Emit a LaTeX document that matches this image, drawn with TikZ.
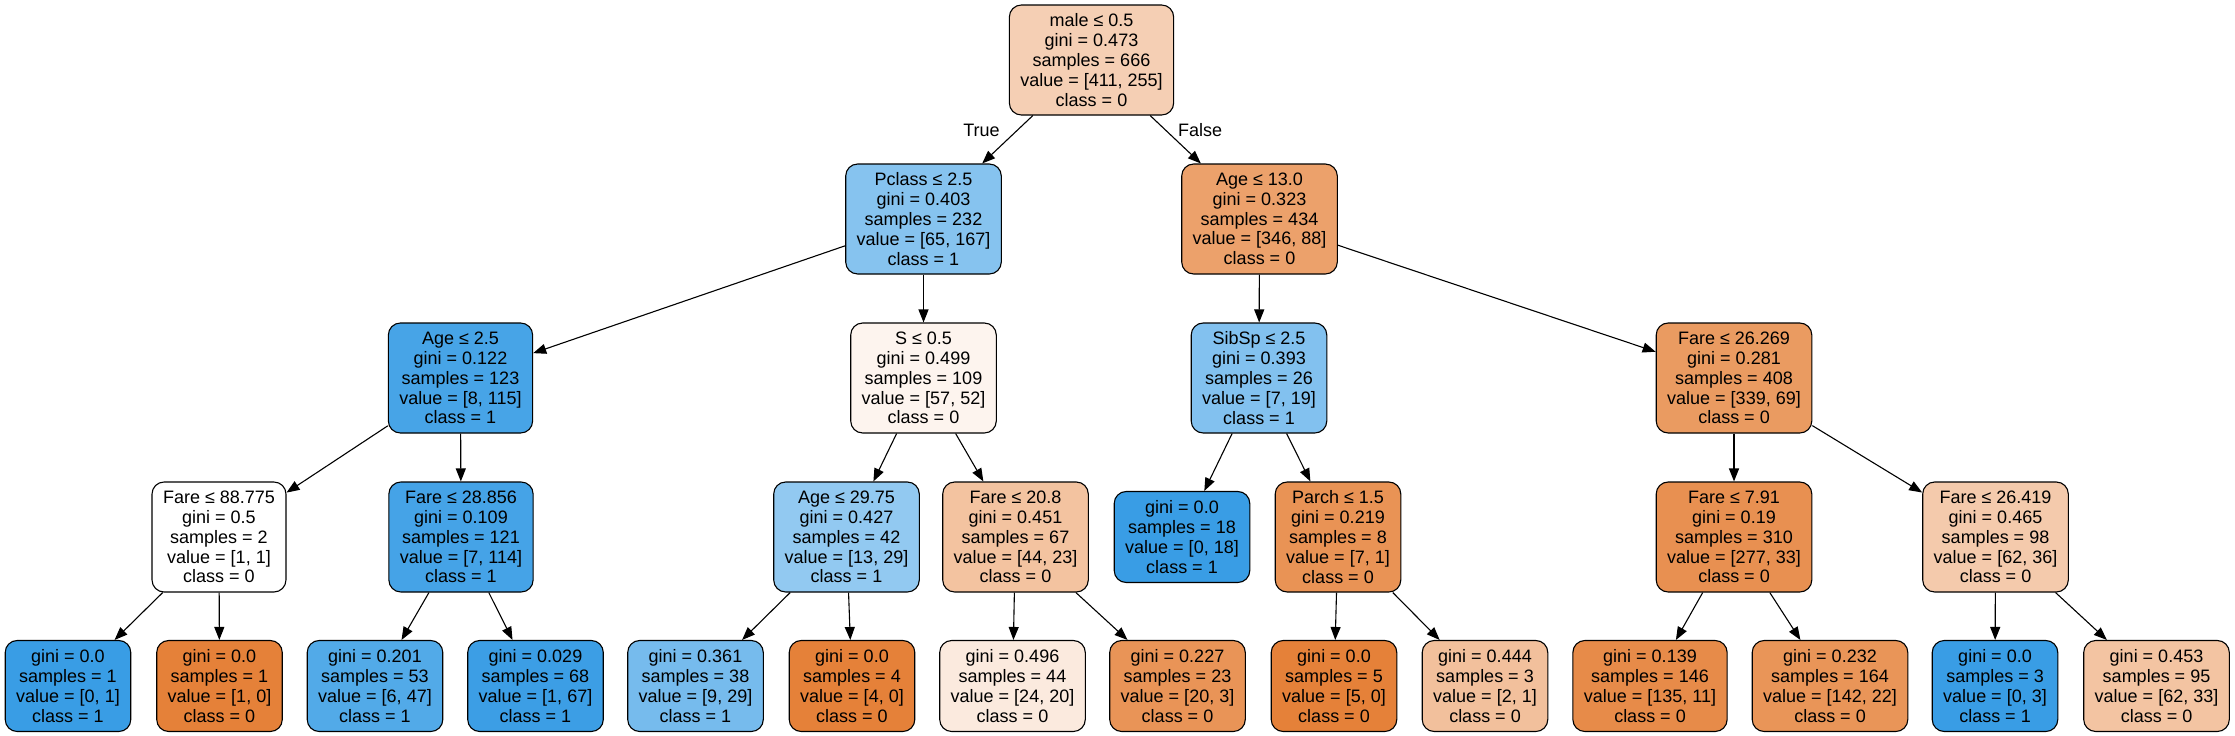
\documentclass[tikz,border=0pt]{standalone}
\usepackage{fontspec}
\setmainfont{Liberation Sans}
\usetikzlibrary{arrows.meta}
\definecolor{cOr}{RGB}{229,129,57}
\definecolor{cBl}{RGB}{57,157,229}
\definecolor{cRoot}{RGB}{245,207,180}
\definecolor{cPcl}{RGB}{134,195,239}
\definecolor{cAtt}{RGB}{236,161,107}
\definecolor{cAtf}{RGB}{71,164,231}
\definecolor{cSz}{RGB}{253,244,238}
\definecolor{cSib}{RGB}{130,193,239}
\definecolor{cFts}{RGB}{234,155,97}
\definecolor{cFtt}{RGB}{69,163,231}
\definecolor{cAtn}{RGB}{146,201,241}
\definecolor{cFtw}{RGB}{243,195,160}
\definecolor{cPar}{RGB}{233,147,85}
\definecolor{cFsn}{RGB}{232,144,81}
\definecolor{cFfn}{RGB}{244,202,172}
\definecolor{cLc}{RGB}{82,170,232}
\definecolor{cLd}{RGB}{60,158,229}
\definecolor{cLe}{RGB}{118,187,237}
\definecolor{cLg}{RGB}{251,234,222}
\definecolor{cLh}{RGB}{233,148,87}
\definecolor{cLj}{RGB}{242,192,156}
\definecolor{cLk}{RGB}{231,139,73}
\definecolor{cLl}{RGB}{233,149,88}
\definecolor{cLn}{RGB}{243,196,162}
\tikzset{
  tnode/.style={draw=black, line width=1.1pt, rounded corners=12pt, align=center,
    font=\fontsize{18pt}{19.8pt}\selectfont, inner xsep=11pt, inner ysep=0pt,
    minimum height=110pt},
  leafnode/.style={tnode, minimum height=91pt},
  edgearrow/.style={draw=black, line width=1.1pt, -{Triangle[length=13pt,width=10pt]}},
  elabel/.style={font=\fontsize{18pt}{19.8pt}\selectfont, anchor=base, inner sep=0pt}
}
\begin{document}
\begin{tikzpicture}[x=1pt,y=-1pt]
\useasboundingbox (0,0) rectangle (2235,736);
\fill[white] (0,0) rectangle (2235,736);
% internal nodes
\node[tnode, fill=cRoot] (root) at (1091.5,60) {male ≤ 0.5\\gini = 0.473\\samples = 666\\value = [411, 255]\\class = 0};
\node[tnode, fill=cPcl] (pcl) at (923.5,219) {Pclass ≤ 2.5\\gini = 0.403\\samples = 232\\value = [65, 167]\\class = 1};
\node[tnode, fill=cAtt] (a13) at (1259.5,219) {Age ≤ 13.0\\gini = 0.323\\samples = 434\\value = [346, 88]\\class = 0};
\node[tnode, fill=cAtf] (a25) at (460.5,378) {Age ≤ 2.5\\gini = 0.122\\samples = 123\\value = [8, 115]\\class = 1};
\node[tnode, fill=cSz] (s05) at (923.5,378) {S ≤ 0.5\\gini = 0.499\\samples = 109\\value = [57, 52]\\class = 0};
\node[tnode, fill=cSib] (sib) at (1259,378) {SibSp ≤ 2.5\\gini = 0.393\\samples = 26\\value = [7, 19]\\class = 1};
\node[tnode, fill=cFts] (f269) at (1734,378) {Fare ≤ 26.269\\gini = 0.281\\samples = 408\\value = [339, 69]\\class = 0};
\node[tnode, fill=white] (f88) at (219,537) {Fare ≤ 88.775\\gini = 0.5\\samples = 2\\value = [1, 1]\\class = 0};
\node[tnode, fill=cFtt] (f28) at (461,537) {Fare ≤ 28.856\\gini = 0.109\\samples = 121\\value = [7, 114]\\class = 1};
\node[tnode, fill=cAtn] (a29) at (846.5,537) {Age ≤ 29.75\\gini = 0.427\\samples = 42\\value = [13, 29]\\class = 1};
\node[tnode, fill=cFtw] (f20) at (1015.5,537) {Fare ≤ 20.8\\gini = 0.451\\samples = 67\\value = [44, 23]\\class = 0};
\node[leafnode, fill=cBl] (l18) at (1182,537) {gini = 0.0\\samples = 18\\value = [0, 18]\\class = 1};
\node[tnode, fill=cPar] (par) at (1338,537) {Parch ≤ 1.5\\gini = 0.219\\samples = 8\\value = [7, 1]\\class = 0};
\node[tnode, fill=cFsn] (f791) at (1734,537) {Fare ≤ 7.91\\gini = 0.19\\samples = 310\\value = [277, 33]\\class = 0};
\node[tnode, fill=cFfn] (f419) at (1995.5,537) {Fare ≤ 26.419\\gini = 0.465\\samples = 98\\value = [62, 36]\\class = 0};
% leaves
\node[leafnode, fill=cBl] (l1) at (68,686) {gini = 0.0\\samples = 1\\value = [0, 1]\\class = 1};
\node[leafnode, fill=cOr] (l2) at (219.5,686) {gini = 0.0\\samples = 1\\value = [1, 0]\\class = 0};
\node[leafnode, fill=cLc] (l3) at (375,686) {gini = 0.201\\samples = 53\\value = [6, 47]\\class = 1};
\node[leafnode, fill=cLd] (l4) at (535.5,686) {gini = 0.029\\samples = 68\\value = [1, 67]\\class = 1};
\node[leafnode, fill=cLe] (l5) at (695.5,686) {gini = 0.361\\samples = 38\\value = [9, 29]\\class = 1};
\node[leafnode, fill=cOr] (l6) at (852,686) {gini = 0.0\\samples = 4\\value = [4, 0]\\class = 0};
\node[leafnode, fill=cLg] (l7) at (1012.5,686) {gini = 0.496\\samples = 44\\value = [24, 20]\\class = 0};
\node[leafnode, fill=cLh] (l8) at (1177.5,686) {gini = 0.227\\samples = 23\\value = [20, 3]\\class = 0};
\node[leafnode, fill=cOr] (l9) at (1334,686) {gini = 0.0\\samples = 5\\value = [5, 0]\\class = 0};
\node[leafnode, fill=cLj] (l10) at (1485,686) {gini = 0.444\\samples = 3\\value = [2, 1]\\class = 0};
\node[leafnode, fill=cLk] (l11) at (1650,686) {gini = 0.139\\samples = 146\\value = [135, 11]\\class = 0};
\node[leafnode, fill=cLl] (l12) at (1830,686) {gini = 0.232\\samples = 164\\value = [142, 22]\\class = 0};
\node[leafnode, fill=cBl] (l13) at (1995,686) {gini = 0.0\\samples = 3\\value = [0, 3]\\class = 1};
\node[leafnode, fill=cLn] (l14) at (2156.5,686) {gini = 0.453\\samples = 95\\value = [62, 33]\\class = 0};
% edges
\draw[edgearrow] (root) -- (pcl);
\draw[edgearrow] (root) -- (a13);
\draw[edgearrow] (pcl) -- (a25);
\draw[edgearrow] (pcl) -- (s05);
\draw[edgearrow] (a13) -- (sib);
\draw[edgearrow] (a13) -- (f269);
\draw[edgearrow] (a25) -- (f88);
\draw[edgearrow] (a25) -- (f28);
\draw[edgearrow] (s05) -- (a29);
\draw[edgearrow] (s05) -- (f20);
\draw[edgearrow] (sib) -- (l18);
\draw[edgearrow] (sib) -- (par);
\draw[edgearrow] (f269) -- (f791);
\draw[edgearrow] (f269) -- (f419);
\draw[edgearrow] (f88) -- (l1);
\draw[edgearrow] (f88) -- (l2);
\draw[edgearrow] (f28) -- (l3);
\draw[edgearrow] (f28) -- (l4);
\draw[edgearrow] (a29) -- (l5);
\draw[edgearrow] (a29) -- (l6);
\draw[edgearrow] (f20) -- (l7);
\draw[edgearrow] (f20) -- (l8);
\draw[edgearrow] (par) -- (l9);
\draw[edgearrow] (par) -- (l10);
\draw[edgearrow] (f791) -- (l11);
\draw[edgearrow] (f791) -- (l12);
\draw[edgearrow] (f419) -- (l13);
\draw[edgearrow] (f419) -- (l14);
% edge labels
\node[elabel] (ltrue) at (981.5,136) {True};
\node[elabel] (lfalse) at (1200,136) {False};
\end{tikzpicture}
\end{document}
